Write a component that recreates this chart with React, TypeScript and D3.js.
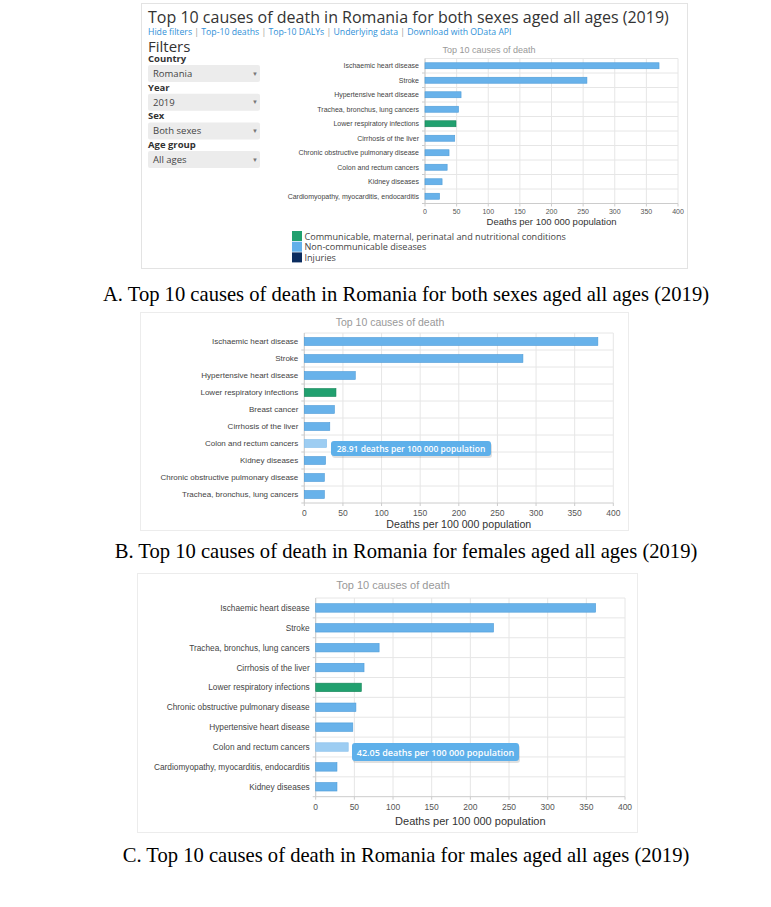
import React from "react";
import * as d3 from "d3";

// ---------- DATA ----------
const catsA = ["Ischaemic heart disease", "Stroke", "Hypertensive heart disease", "Trachea, bronchus, lung cancers", "Lower respiratory infections", "Cirrhosis of the liver", "Chronic obstructive pulmonary disease", "Colon and rectum cancers", "Kidney diseases", "Cardiomyopathy, myocarditis, endocarditis"];
const valsA = [370, 256, 57, 53, 49, 47, 38, 35, 27, 23];
const groupA = ["N", "N", "N", "N", "C", "N", "N", "N", "N", "N"];

const catsB = ["Ischaemic heart disease", "Stroke", "Hypertensive heart disease", "Lower respiratory infections", "Breast cancer", "Cirrhosis of the liver", "Colon and rectum cancers", "Kidney diseases", "Chronic obstructive pulmonary disease", "Trachea, bronchus, lung cancers"];
const valsB = [380, 283, 66, 41, 39, 33, 28.91, 27.5, 26, 26];
const groupB = ["N", "N", "N", "C", "N", "N", "N", "N", "N", "N"];

const catsC = ["Ischaemic heart disease", "Stroke", "Trachea, bronchus, lung cancers", "Cirrhosis of the liver", "Lower respiratory infections", "Chronic obstructive pulmonary disease", "Hypertensive heart disease", "Colon and rectum cancers", "Cardiomyopathy, myocarditis, endocarditis", "Kidney diseases"];
const valsC = [362, 230, 82, 62.5, 59, 52, 48, 42.05, 27.5, 27.5];
const groupC = ["N", "N", "N", "N", "C", "N", "N", "N", "N", "N"];

const xTicks = [0, 50, 100, 150, 200, 250, 300, 350, 400];
const legendItems = ["Communicable, maternal, perinatal and nutritional conditions", "Non-communicable diseases", "Injuries"];
const legendColors = ["#21a06f", "#62b0ea", "#0b2c5f"];
const filterLabels = ["Country", "Year", "Sex", "Age group"];
const filterValues = ["Romania", "2019", "Both sexes", "All ages"];
const links = ["Hide filters", "Top-10 deaths", "Top-10 DALYs", "Underlying data", "Download with OData API"];
const captions = [
  "A. Top 10 causes of death in Romania for both sexes aged all ages (2019)",
  "B. Top 10 causes of death in Romania for females aged all ages (2019)",
  "C. Top 10 causes of death in Romania for males aged all ages (2019)",
];

const SANS = "'Liberation Sans', Arial, sans-serif";
const OPEN = "'Open Sans', 'Noto Sans', sans-serif";
const SERIF = "'Liberation Serif', 'Times New Roman', serif";

type PanelProps = {
  cats: string[]; vals: number[]; groups: string[];
  x0: number; x1: number; top: number; bottom: number;
  labelFont: number; tickFont: number; tickY: number;
  axisTitleY: number; axisTitleFont: number;
  titleX: number; titleY: number; titleFont: number;
  barH: number; hover?: number; tip?: { x: number; y: number; w: number; h: number; text: string; font: number };
};

function Panel(p: PanelProps) {
  const x = d3.scaleLinear().domain([0, 400]).range([p.x0, p.x1]);
  const y = d3.scaleBand().domain(p.cats).range([p.top, p.bottom]);
  const bw = y.bandwidth();
  return (
    <g>
      <text x={p.titleX} y={p.titleY} fontSize={p.titleFont} fill="#999" textAnchor="middle" dominantBaseline="central" fontFamily={SANS}>Top 10 causes of death</text>
      {xTicks.map((t) => (
        <line key={"g" + t} x1={x(t)} x2={x(t)} y1={p.top} y2={p.bottom} stroke="#e6e6e6" strokeWidth={1} />
      ))}
      {p.cats.map((c, i) => (
        <line key={"h" + i} x1={p.x0} x2={p.x1} y1={(y(c) as number)} y2={(y(c) as number)} stroke="#e6e6e6" strokeWidth={1} />
      ))}
      {p.cats.map((c, i) => (
        <line key={"ct" + i} x1={p.x0 - 3} x2={p.x0} y1={(y(c) as number) + bw} y2={(y(c) as number) + bw} stroke="#ccc" strokeWidth={1} />
      ))}
      <line x1={p.x0} x2={p.x0} y1={p.top} y2={p.bottom} stroke="#ccc" strokeWidth={1} />
      <line x1={p.x0} x2={p.x1} y1={p.bottom} y2={p.bottom} stroke="#ccc" strokeWidth={1} />
      {xTicks.map((t) => (
        <line key={"xt" + t} x1={x(t)} x2={x(t)} y1={p.bottom} y2={p.bottom + 3} stroke="#ccc" strokeWidth={1} />
      ))}
      {p.cats.map((c, i) => {
        const cy = (y(c) as number) + bw / 2;
        const comm = p.groups[i] === "C";
        const hov = p.hover === i;
        const fill = comm ? "#21a06f" : hov ? "#9dcdf2" : "#68b2ea";
        const stroke = comm ? "#178559" : hov ? "#86bfeb" : "#4d9cd8";
        return (
          <rect key={"b" + i} x={p.x0} y={cy - p.barH / 2} width={x(p.vals[i]) - p.x0} height={p.barH} fill={fill} stroke={stroke} strokeWidth={0.6} />
        );
      })}
      {p.cats.map((c, i) => (
        <text key={"l" + i} x={p.x0 - 6} y={(y(c) as number) + bw / 2} fontSize={p.labelFont} fill="#444" textAnchor="end" dominantBaseline="central" fontFamily={SANS}>{c}</text>
      ))}
      {xTicks.map((t) => (
        <text key={"tl" + t} x={x(t)} y={p.tickY} fontSize={p.tickFont} fill="#555" textAnchor="middle" dominantBaseline="central" fontFamily={SANS}>{t}</text>
      ))}
      <text x={(p.x0 + p.x1) / 2} y={p.axisTitleY} fontSize={p.axisTitleFont} fill="#333" textAnchor="middle" dominantBaseline="central" fontFamily={SANS}>Deaths per 100 000 population</text>
      {p.tip && (
        <g>
          <rect x={p.tip.x + 1} y={p.tip.y + 2} width={p.tip.w} height={p.tip.h} rx={3} fill="#000" opacity={0.12} />
          <rect x={p.tip.x} y={p.tip.y} width={p.tip.w} height={p.tip.h} rx={3} fill="#5eb0ea" />
          <text x={p.tip.x + p.tip.w / 2} y={p.tip.y + p.tip.h / 2} fontSize={p.tip.font} fill="#fff" fontWeight={600} textAnchor="middle" dominantBaseline="central" fontFamily={OPEN}>{p.tip.text}</text>
        </g>
      )}
    </g>
  );
}

export default function App() {
  return (
    <svg width={771} height={907} style={{ position: "absolute", left: 0, top: 0, background: "#fff" }}>
      <rect x={0} y={0} width={771} height={907} fill="#fff" />
      <rect x={141.5} y={3.5} width={546} height={265} fill="#fff" stroke="#e3e3e3" />
      <text x={148} y={23} fontSize={16} fill="#333" fontFamily={OPEN}>Top 10 causes of death in Romania for both sexes aged all ages (2019)</text>
      <text x={148} y={34.5} fontSize={8.7} fontFamily={OPEN} fill="#2f90d8">
        {links.map((l, i) => (
          <tspan key={i}>{l}{i < links.length - 1 ? <tspan fill="#999"> | </tspan> : null}</tspan>
        ))}
      </text>
      <text x={148} y={52} fontSize={15} fill="#333" fontFamily={OPEN}>Filters</text>
      {filterLabels.map((f, i) => {
        const base = 62 + i * 28.7;
        return (
          <g key={f}>
            <text x={148} y={base} fontSize={9.5} fontWeight={700} fill="#333" fontFamily={OPEN}>{f}</text>
            <rect x={148} y={base + 3} width={112} height={17} rx={2} fill="#ececec" />
            <text x={153} y={base + 11.5} fontSize={9.5} fill="#444" dominantBaseline="central" fontFamily={OPEN}>{filterValues[i]}</text>
            <text x={252} y={base + 11.5} fontSize={6} fill="#777" dominantBaseline="central" fontFamily={SANS}>▼</text>
          </g>
        );
      })}
      <Panel cats={catsA} vals={valsA} groups={groupA} x0={425} x1={678} top={58.5} bottom={203.5}
        labelFont={7} tickFont={7} tickY={211} axisTitleY={221.5} axisTitleFont={9.5}
        titleX={489} titleY={49.5} titleFont={9} barH={6} />
      {legendItems.map((l, i) => (
        <g key={l}>
          <rect x={292} y={231 + i * 10.7} width={10} height={10} fill={legendColors[i]} />
          <text x={304.5} y={236 + i * 10.7} fontSize={9.1} fill="#444" dominantBaseline="central" fontFamily={OPEN}>{l}</text>
        </g>
      ))}
      <text x={406} y={294} fontSize={20.6} fill="#000" textAnchor="middle" dominantBaseline="central" fontFamily={SERIF}>{captions[0]}</text>

      <rect x={140.5} y={312.5} width={488} height={218} fill="#fff" stroke="#ececec" />
      <Panel cats={catsB} vals={valsB} groups={groupB} x0={304.3} x1={613.3} top={333} bottom={503}
        labelFont={8} tickFont={8.5} tickY={512.5} axisTitleY={523.5} axisTitleFont={10.6}
        titleX={390} titleY={322} titleFont={10.5} barH={8} hover={6}
        tip={{ x: 331, y: 441, w: 160, h: 15, text: "28.91 deaths per 100 000 population", font: 8.5 }} />
      <text x={406} y={551} fontSize={20.6} fill="#000" textAnchor="middle" dominantBaseline="central" fontFamily={SERIF}>{captions[1]}</text>

      <rect x={137.5} y={573.5} width={500} height={259} fill="#fff" stroke="#ececec" />
      <Panel cats={catsC} vals={valsC} groups={groupC} x0={315.7} x1={625} top={598} bottom={796.7}
        labelFont={8.3} tickFont={8.5} tickY={807} axisTitleY={821} axisTitleFont={11}
        titleX={393} titleY={585} titleFont={11} barH={8.5} hover={7}
        tip={{ x: 352, y: 743, w: 167, h: 18, text: "42.05 deaths per 100 000 population", font: 9 }} />
      <text x={406} y={855} fontSize={20.6} fill="#000" textAnchor="middle" dominantBaseline="central" fontFamily={SERIF}>{captions[2]}</text>
    </svg>
  );
}
